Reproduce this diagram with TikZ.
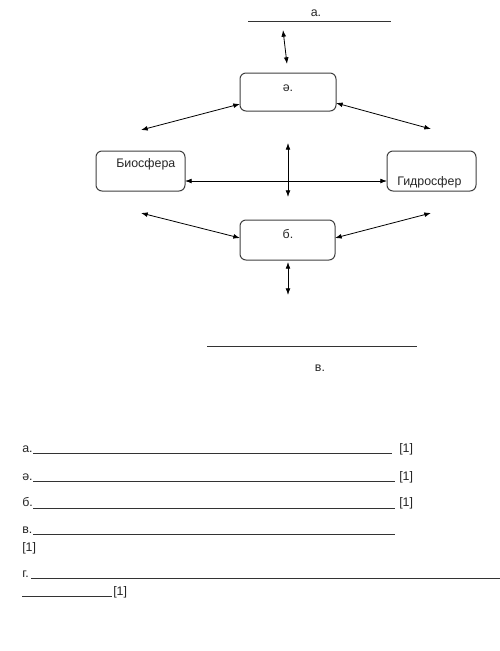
\documentclass[tikz,border=0pt]{standalone}
\usepackage{fontspec}
\setmainfont{Liberation Sans}
\usetikzlibrary{arrows.meta}
\begin{document}
\begin{tikzpicture}[x=0.75pt,y=-0.75pt,
  box/.style={draw=black!75, rounded corners=4.5pt, line width=0.75pt, inner sep=0pt},
  lab/.style={font=\fontsize{9.3}{11}\selectfont, inner sep=0pt, text=black!85},
  conn/.style={{Latex[length=5pt,width=3.6pt]}-{Latex[length=5pt,width=3.6pt]}, line width=0.6pt},
  blank/.style={line width=0.55pt, draw=black!80}]
\useasboundingbox[fill=white] (0,0) rectangle (500,651);
% boxes
\node[box, minimum width=72pt, minimum height=28.5pt] (ae) at (288,92) {};
\node[box, minimum width=66.75pt, minimum height=30pt] (bio) at (140.5,171) {};
\node[box, minimum width=66.75pt, minimum height=30pt] (hyd) at (431.5,171) {};
\node[box, minimum width=71.25pt, minimum height=30pt] (b) at (287.5,240) {};
\node[lab] (aetxt) at (288,88) {ә.};
\node[lab, anchor=west] (biotxt) at (116,164) {Биосфера};
\node[lab, anchor=west] (hydtxt) at (397,182) {Гидросфер};
\node[lab] (btxt) at (288,234) {б.};
% blanks in diagram
\coordinate (ta1) at (248,21); \coordinate (ta2) at (391,21);
\draw[blank] (ta1) -- (ta2);
\node[lab] (tal) at (316,13) {а.};
\coordinate (tv1) at (207,346); \coordinate (tv2) at (417,346);
\draw[blank] (tv1) -- (tv2);
\node[lab] (tvl) at (320,368) {в.};
% arrow end points
\coordinate (a1) at (283,30); \coordinate (a2) at (287,64);
\coordinate (l1) at (240,104); \coordinate (l2) at (141,130);
\coordinate (r1) at (336,103); \coordinate (r2) at (431,129);
\coordinate (h1) at (185,181); \coordinate (h2) at (387,181);
\coordinate (v1) at (288,143); \coordinate (v2) at (288,197);
\coordinate (bl1) at (141,213); \coordinate (bl2) at (240,238);
\coordinate (br1) at (335,238); \coordinate (br2) at (431,213);
\coordinate (d1) at (288,262); \coordinate (d2) at (288,295);
\draw[conn] (a1) -- (a2);
\draw[conn] (l1) -- (l2);
\draw[conn] (r1) -- (r2);
\draw[conn] (h1) -- (h2);
\draw[conn] (v1) -- (v2);
\draw[conn] (bl1) -- (bl2);
\draw[conn] (br1) -- (br2);
\draw[conn] (d1) -- (d2);
% answer lines
\node[lab, anchor=base west] (qa) at (22,452) {а.};
\draw[blank] (33,453) -- (392,453);
\node[lab, anchor=base west] (qa1) at (399,452) {[1]};
\node[lab, anchor=base west] (qae) at (22,480) {ә.};
\draw[blank] (33,481) -- (395,481);
\node[lab, anchor=base west] (qae1) at (399,480) {[1]};
\node[lab, anchor=base west] (qb) at (22,506) {б.};
\draw[blank] (33,508) -- (395,508);
\node[lab, anchor=base west] (qb1) at (399,506) {[1]};
\node[lab, anchor=base west] (qv) at (22,533) {в.};
\draw[blank] (33,534) -- (395,534);
\node[lab, anchor=base west] (qv1) at (22,551) {[1]};
\node[lab, anchor=base west] (qg) at (22,577) {г.};
\draw[blank] (31,578) -- (500,578);
\draw[blank] (22,596) -- (112,596);
\node[lab, anchor=base west] (qg1) at (113,595) {[1]};
\end{tikzpicture}
\end{document}
